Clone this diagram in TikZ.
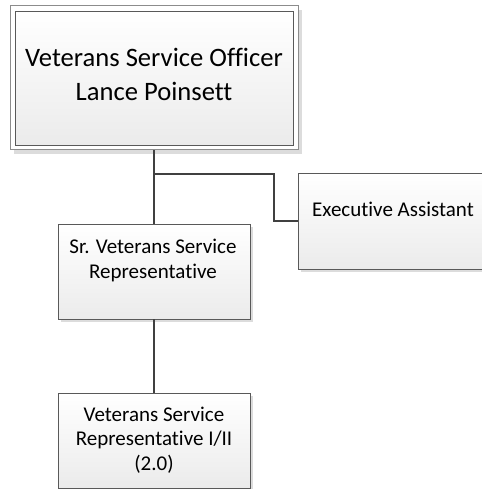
\documentclass[tikz,border=0pt]{standalone}
\usepackage{fontspec}
\setmainfont{Carlito}[Ligatures=NoCommon]
\definecolor{boxline}{HTML}{595959}
\definecolor{frameline}{HTML}{8C8C8C}
\definecolor{connline}{HTML}{404040}
\definecolor{shadowc}{HTML}{DCDCDC}
\definecolor{fillbot}{HTML}{EBEBEB}
\tikzset{
  box/.style={draw=boxline, line width=0.9pt, top color=white, bottom color=fillbot, inner sep=0pt},
  frame/.style={draw=frameline, line width=1pt, fill=white, inner sep=0pt},
  shadowbox/.style={fill=shadowc, draw=none, inner sep=0pt},
  conn/.style={draw=connline, line width=2pt},
  bigtxt/.style={font=\fontsize{26.6}{34}\selectfont, align=center, inner sep=0pt, text=black, anchor=base},
  smalltxt/.style={font=\fontsize{21}{24.5}\selectfont, align=center, inner sep=0pt, text=black, anchor=base}
}
\begin{document}
\begin{tikzpicture}[x=1pt,y=-1pt]
\useasboundingbox (0,0) rectangle (481,489);
% shadows
\node[shadowbox, minimum width=288, minimum height=144] (vsoshadow) at (158,82) {};
\node[shadowbox, minimum width=192, minimum height=95] (srshadow) at (157,274.5) {};
\node[shadowbox, minimum width=192, minimum height=95] (vsrshadow) at (157,443.5) {};
\node[shadowbox, minimum width=188, minimum height=96] (eashadow) at (395,224) {};
% top box
\node[frame, minimum width=288, minimum height=144] (vsoframe) at (154,78) {};
\node[box, minimum width=278, minimum height=134] (vso) at (154,78) {};
\node[bigtxt] (vsotxt) at (154,101) {Veterans Service Officer\\Lance Poinsett};
% other boxes
\node[box, minimum width=192, minimum height=95] (sr) at (154,271.5) {};
\node[smalltxt] (srtxt) at (153,278) {Sr. Veterans Service\\Representative};
\node[box, minimum width=192, minimum height=95] (vsr) at (154,440.5) {};
\node[smalltxt] (vsrtxt) at (154,470) {Veterans Service\\Representative I/II\\(2.0)};
\node[box, minimum width=188, minimum height=96] (ea) at (392,221) {};
\node[smalltxt] (eatxt) at (393,216) {Executive Assistant};
% connectors
\coordinate (j) at (154,174);
\coordinate (k) at (274,174);
\draw[conn] (vsoframe.south) -- (sr.north);
\draw[conn] (j) -- (k) |- (ea.west);
\draw[conn] (sr.south) -- (vsr.north);
\end{tikzpicture}
\end{document}
